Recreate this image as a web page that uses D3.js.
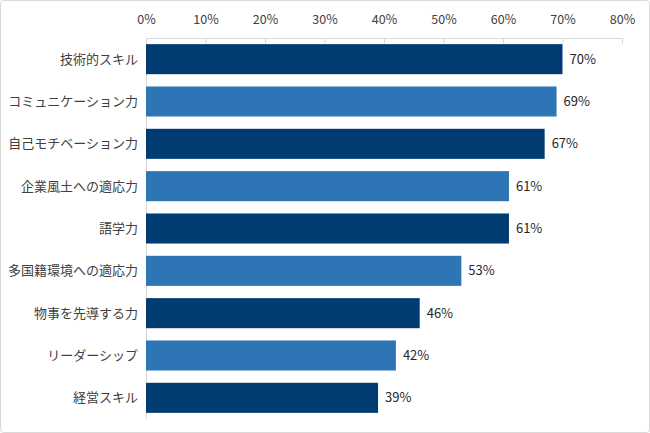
<!DOCTYPE html>
<html><head><meta charset="utf-8">
<script src="https://cdn.jsdelivr.net/npm/d3@7"></script>
<style>body{margin:0;background:#fff;}svg{display:block;}</style>
</head><body><svg id="c" width="650" height="433"></svg>
<script>
const categories = ["技術的スキル","コミュニケーション力","自己モチベーション力","企業風土への適応力","語学力","多国籍環境への適応力","物事を先導する力","リーダーシップ","経営スキル"];
const values = [70,69,67,61,61,53,46,42,39];
const tickValues = [0,10,20,30,40,50,60,70,80];
const colors = ["#003b72","#2e75b6"];

const svg = d3.select("#c");
const font = "'Noto Sans CJK JP','Noto Sans',sans-serif";
svg.append("rect").attr("x",0.5).attr("y",0.5).attr("width",649).attr("height",432)
  .attr("rx",3).attr("fill","#fff").attr("stroke","#d9d9d9");

const x = d3.scaleLinear().domain([0,80]).range([146,622]);
const y = d3.scaleBand().domain(categories).range([38,419]).paddingInner(0.29).paddingOuter(0.145);

const xa = svg.append("g").attr("transform","translate(0,38)")
  .call(d3.axisTop(x).tickValues(tickValues).tickFormat(d=>d+"%").tickSizeInner(-6).tickSizeOuter(0).tickPadding(14));
xa.select(".domain").attr("stroke","#d9d9d9");
xa.selectAll(".tick line").attr("stroke","#d9d9d9");
xa.selectAll(".tick text").attr("font-family",font).attr("font-size",12.5).attr("fill","#404040");

svg.append("line").attr("x1",146.5).attr("x2",146.5).attr("y1",38).attr("y2",419).attr("stroke","#d9d9d9");

svg.selectAll(".bar").data(values).enter().append("rect")
  .attr("x",x(0)).attr("y",(d,i)=>y(categories[i]))
  .attr("width",d=>x(d)-x(0)).attr("height",y.bandwidth())
  .attr("fill",(d,i)=>colors[i%2]);

svg.selectAll(".val").data(values).enter().append("text")
  .attr("x",d=>x(d)+7).attr("y",(d,i)=>y(categories[i])+y.bandwidth()/2)
  .attr("dy","0.35em").attr("font-family",font).attr("font-size",13).attr("fill","#262626")
  .text(d=>d+"%");

svg.selectAll(".cat").data(categories).enter().append("text")
  .attr("x",138).attr("y",d=>y(d)+y.bandwidth()/2).attr("dy","0.35em")
  .attr("text-anchor","end").attr("font-family",font).attr("font-size",13).attr("fill","#404040")
  .text(d=>d);
</script></body></html>
